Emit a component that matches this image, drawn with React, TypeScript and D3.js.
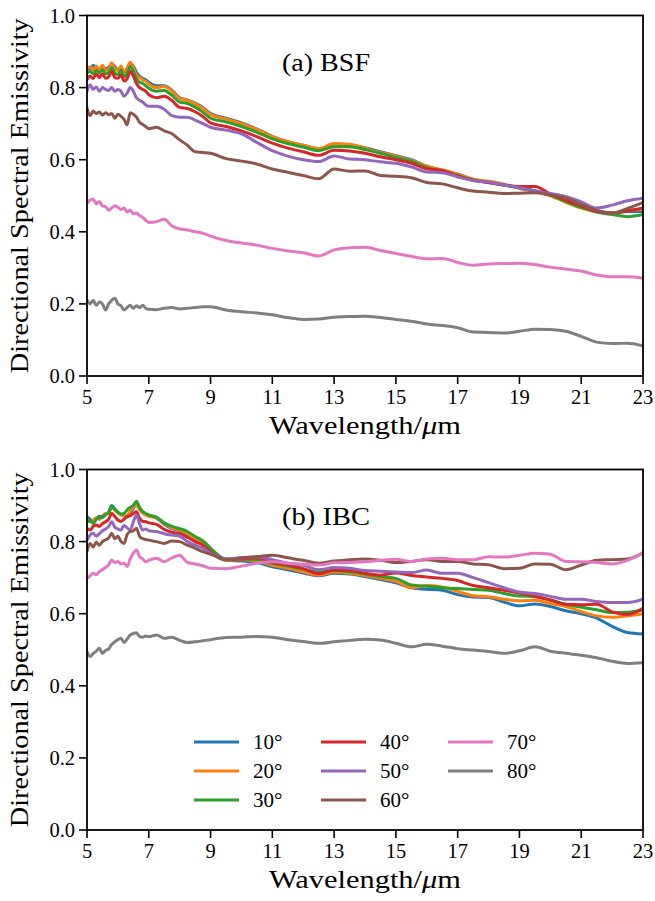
import React from 'react';
import * as d3 from 'd3';

// ---------- data ----------
const WAVELENGTH = [
  5.0, 5.1, 5.2, 5.3, 5.4, 5.5, 5.6, 5.7, 5.8, 5.9, 6.0, 6.1, 6.2, 6.3, 6.4, 6.5, 6.6, 6.7, 6.8, 6.9, 7.0,
  7.25, 7.5, 7.75, 8.0, 8.25, 8.5, 8.75, 9.0,
  9.5, 10.0, 10.5, 11.0, 11.5, 12.0, 12.5, 13.0, 13.5, 14.0, 14.5, 15.0, 15.5, 16.0, 16.5, 17.0, 17.5,
  18.0, 18.5, 19.0, 19.5, 20.0, 20.5, 21.0, 21.5, 22.0, 22.5, 23.0,
];

const ANGLES = ['10°', '20°', '30°', '40°', '50°', '60°', '70°', '80°'];
const COLORS = ['#1f77b4', '#ff7f0e', '#2ca02c', '#d62728', '#9467bd', '#8c564b', '#e377c2', '#7f7f7f'];

const X_TICKS = [5, 7, 9, 11, 13, 15, 17, 19, 21, 23];
const Y_TICKS = [0.0, 0.2, 0.4, 0.6, 0.8, 1.0];

// (a) BSF
const BSF_10 = [
  0.858, 0.850, 0.862, 0.855, 0.853, 0.858, 0.852, 0.856, 0.866, 0.858, 0.850, 0.856, 0.845, 0.850, 0.866, 0.860, 0.842, 0.832, 0.826, 0.822, 0.815,
  0.805, 0.805, 0.792, 0.772, 0.766, 0.757, 0.745, 0.728,
  0.715, 0.702, 0.685, 0.665, 0.650, 0.640, 0.630, 0.643, 0.640, 0.633, 0.622, 0.611, 0.600, 0.582, 0.570, 0.560, 0.545,
  0.537, 0.530, 0.522, 0.514, 0.504, 0.486, 0.468, 0.458, 0.452, 0.456, 0.456,
];
const BSF_20 = [
  0.852, 0.858, 0.848, 0.860, 0.850, 0.862, 0.848, 0.852, 0.868, 0.852, 0.848, 0.860, 0.842, 0.855, 0.870, 0.855, 0.835, 0.828, 0.822, 0.818, 0.810,
  0.800, 0.803, 0.790, 0.770, 0.765, 0.755, 0.742, 0.725,
  0.713, 0.700, 0.684, 0.664, 0.650, 0.640, 0.631, 0.645, 0.643, 0.632, 0.620, 0.610, 0.598, 0.582, 0.572, 0.560, 0.546,
  0.540, 0.532, 0.520, 0.512, 0.500, 0.482, 0.466, 0.456, 0.452, 0.460, 0.462,
];
const BSF_30 = [
  0.840, 0.845, 0.838, 0.848, 0.840, 0.850, 0.838, 0.842, 0.856, 0.840, 0.836, 0.848, 0.830, 0.840, 0.858, 0.845, 0.825, 0.815, 0.812, 0.805, 0.798,
  0.790, 0.792, 0.778, 0.760, 0.756, 0.746, 0.732, 0.715,
  0.705, 0.692, 0.676, 0.658, 0.645, 0.635, 0.625, 0.636, 0.636, 0.628, 0.618, 0.606, 0.596, 0.578, 0.568, 0.556, 0.544,
  0.537, 0.530, 0.522, 0.512, 0.502, 0.484, 0.468, 0.455, 0.448, 0.442, 0.448,
];
const BSF_40 = [
  0.822, 0.832, 0.825, 0.838, 0.828, 0.838, 0.826, 0.830, 0.845, 0.828, 0.826, 0.835, 0.818, 0.825, 0.845, 0.832, 0.812, 0.800, 0.795, 0.790, 0.780,
  0.772, 0.776, 0.764, 0.745, 0.742, 0.733, 0.720, 0.702,
  0.692, 0.680, 0.664, 0.646, 0.632, 0.622, 0.612, 0.626, 0.624, 0.618, 0.608, 0.600, 0.590, 0.575, 0.570, 0.555, 0.543,
  0.537, 0.530, 0.526, 0.526, 0.505, 0.488, 0.472, 0.456, 0.452, 0.458, 0.466,
];
const BSF_50 = [
  0.790, 0.808, 0.795, 0.802, 0.790, 0.800, 0.795, 0.792, 0.800, 0.790, 0.795, 0.790, 0.776, 0.785, 0.800, 0.790, 0.772, 0.765, 0.760, 0.752, 0.748,
  0.748, 0.740, 0.722, 0.718, 0.718, 0.710, 0.700, 0.690,
  0.682, 0.672, 0.648, 0.625, 0.610, 0.600, 0.595, 0.610, 0.602, 0.600, 0.594, 0.590, 0.580, 0.566, 0.564, 0.552, 0.542,
  0.538, 0.530, 0.522, 0.513, 0.506, 0.498, 0.483, 0.466, 0.474, 0.486, 0.493,
];
const BSF_60 = [
  0.744, 0.722, 0.735, 0.728, 0.732, 0.724, 0.730, 0.725, 0.728, 0.715, 0.726, 0.720, 0.712, 0.697, 0.730, 0.726, 0.718, 0.704, 0.698, 0.692, 0.686,
  0.690, 0.680, 0.672, 0.655, 0.640, 0.622, 0.620, 0.618,
  0.603, 0.596, 0.588, 0.574, 0.565, 0.556, 0.547, 0.574, 0.568, 0.569, 0.556, 0.554, 0.550, 0.537, 0.533, 0.522, 0.513,
  0.510, 0.506, 0.507, 0.508, 0.502, 0.494, 0.476, 0.459, 0.452, 0.465, 0.481,
];
const BSF_70 = [
  0.478, 0.488, 0.490, 0.478, 0.484, 0.472, 0.470, 0.460, 0.466, 0.472, 0.468, 0.462, 0.466, 0.455, 0.460, 0.450, 0.452, 0.445, 0.440, 0.432, 0.426,
  0.428, 0.435, 0.416, 0.408, 0.405, 0.400, 0.396, 0.388,
  0.376, 0.369, 0.363, 0.354, 0.347, 0.342, 0.333, 0.350, 0.356, 0.357, 0.348, 0.340, 0.332, 0.325, 0.326, 0.315, 0.307,
  0.311, 0.312, 0.313, 0.309, 0.302, 0.297, 0.291, 0.280, 0.275, 0.275, 0.271,
];
const BSF_80 = [
  0.211, 0.200, 0.210, 0.196, 0.205, 0.200, 0.183, 0.200, 0.210, 0.216, 0.200, 0.195, 0.183, 0.190, 0.196, 0.188, 0.195, 0.190, 0.196, 0.188, 0.185,
  0.184, 0.188, 0.190, 0.186, 0.188, 0.190, 0.192, 0.192,
  0.183, 0.178, 0.175, 0.170, 0.162, 0.157, 0.158, 0.163, 0.165, 0.166, 0.162, 0.157, 0.152, 0.144, 0.140, 0.134, 0.122,
  0.121, 0.119, 0.124, 0.130, 0.129, 0.124, 0.110, 0.094, 0.090, 0.091, 0.084,
];

// (b) IBC
const IBC_10 = [
  0.869, 0.862, 0.855, 0.862, 0.870, 0.866, 0.875, 0.882, 0.900, 0.890, 0.880, 0.876, 0.872, 0.868, 0.880, 0.892, 0.905, 0.890, 0.882, 0.876, 0.872,
  0.865, 0.848, 0.836, 0.830, 0.818, 0.806, 0.795, 0.772,
  0.748, 0.746, 0.742, 0.730, 0.722, 0.713, 0.705, 0.712, 0.710, 0.703, 0.695, 0.686, 0.672, 0.668, 0.665, 0.653, 0.646,
  0.645, 0.632, 0.622, 0.627, 0.620, 0.608, 0.600, 0.588, 0.565, 0.548, 0.544,
];
const IBC_20 = [
  0.860, 0.855, 0.860, 0.866, 0.862, 0.870, 0.878, 0.878, 0.895, 0.888, 0.880, 0.874, 0.872, 0.872, 0.885, 0.895, 0.902, 0.888, 0.880, 0.874, 0.870,
  0.866, 0.850, 0.838, 0.832, 0.822, 0.808, 0.796, 0.775,
  0.748, 0.750, 0.746, 0.734, 0.726, 0.716, 0.707, 0.716, 0.712, 0.706, 0.698, 0.690, 0.672, 0.678, 0.674, 0.662, 0.650,
  0.647, 0.640, 0.636, 0.637, 0.628, 0.620, 0.606, 0.594, 0.590, 0.594, 0.599,
];
const IBC_30 = [
  0.855, 0.858, 0.850, 0.862, 0.866, 0.870, 0.875, 0.880, 0.898, 0.890, 0.882, 0.876, 0.878, 0.888, 0.895, 0.900, 0.912, 0.895, 0.884, 0.878, 0.874,
  0.868, 0.852, 0.842, 0.836, 0.828, 0.814, 0.802, 0.782,
  0.752, 0.752, 0.750, 0.740, 0.732, 0.723, 0.716, 0.720, 0.716, 0.710, 0.703, 0.698, 0.680, 0.676, 0.672, 0.670, 0.667,
  0.665, 0.656, 0.649, 0.648, 0.638, 0.626, 0.618, 0.611, 0.603, 0.604, 0.610,
];
const IBC_40 = [
  0.837, 0.832, 0.842, 0.846, 0.842, 0.850, 0.855, 0.862, 0.878, 0.870, 0.860, 0.856, 0.862, 0.870, 0.872, 0.878, 0.883, 0.865, 0.856, 0.855, 0.852,
  0.848, 0.834, 0.826, 0.822, 0.812, 0.800, 0.790, 0.772,
  0.750, 0.752, 0.755, 0.742, 0.735, 0.725, 0.711, 0.721, 0.720, 0.712, 0.707, 0.713, 0.706, 0.702, 0.698, 0.692, 0.678,
  0.672, 0.665, 0.657, 0.648, 0.638, 0.626, 0.625, 0.626, 0.605, 0.598, 0.615,
];
const IBC_50 = [
  0.804, 0.818, 0.823, 0.815, 0.822, 0.830, 0.835, 0.842, 0.855, 0.840, 0.835, 0.832, 0.845, 0.838, 0.832, 0.855, 0.874, 0.850, 0.832, 0.835, 0.830,
  0.828, 0.822, 0.818, 0.815, 0.800, 0.790, 0.782, 0.768,
  0.752, 0.755, 0.758, 0.750, 0.740, 0.734, 0.722, 0.728, 0.726, 0.720, 0.718, 0.716, 0.714, 0.721, 0.712, 0.712, 0.700,
  0.686, 0.672, 0.660, 0.656, 0.648, 0.640, 0.640, 0.634, 0.631, 0.631, 0.640,
];
const IBC_60 = [
  0.772, 0.795, 0.785, 0.798, 0.790, 0.800, 0.805, 0.810, 0.823, 0.808, 0.815, 0.800, 0.795, 0.820, 0.828, 0.830, 0.837, 0.815, 0.808, 0.806, 0.804,
  0.800, 0.795, 0.802, 0.800, 0.790, 0.782, 0.772, 0.765,
  0.750, 0.755, 0.758, 0.762, 0.755, 0.748, 0.740, 0.746, 0.750, 0.752, 0.748, 0.742, 0.745, 0.750, 0.745, 0.745, 0.738,
  0.736, 0.725, 0.726, 0.738, 0.737, 0.722, 0.735, 0.748, 0.750, 0.752, 0.769,
];
const IBC_70 = [
  0.698, 0.705, 0.712, 0.708, 0.717, 0.722, 0.728, 0.735, 0.749, 0.742, 0.745, 0.738, 0.740, 0.731, 0.752, 0.768, 0.777, 0.758, 0.752, 0.744, 0.748,
  0.754, 0.744, 0.755, 0.762, 0.742, 0.738, 0.733, 0.726,
  0.725, 0.732, 0.740, 0.744, 0.740, 0.737, 0.735, 0.741, 0.742, 0.744, 0.748, 0.751, 0.745, 0.752, 0.754, 0.750, 0.750,
  0.758, 0.757, 0.762, 0.768, 0.765, 0.745, 0.744, 0.742, 0.738, 0.748, 0.769,
];
const IBC_80 = [
  0.495, 0.481, 0.490, 0.496, 0.504, 0.490, 0.498, 0.502, 0.515, 0.522, 0.528, 0.532, 0.520, 0.530, 0.541, 0.545, 0.547, 0.537, 0.535, 0.538, 0.536,
  0.541, 0.532, 0.535, 0.526, 0.520, 0.522, 0.525, 0.528,
  0.534, 0.535, 0.537, 0.535, 0.528, 0.523, 0.518, 0.522, 0.526, 0.529, 0.527, 0.518, 0.508, 0.515, 0.510, 0.503, 0.499,
  0.495, 0.490, 0.497, 0.508, 0.496, 0.490, 0.485, 0.478, 0.468, 0.462, 0.464,
];

const BSF_SERIES = [BSF_10, BSF_20, BSF_30, BSF_40, BSF_50, BSF_60, BSF_70, BSF_80];
const IBC_SERIES = [IBC_10, IBC_20, IBC_30, IBC_40, IBC_50, IBC_60, IBC_70, IBC_80];

// ---------- layout ----------
const W = 655;
const H = 901;
const LEFT = 87;
const RIGHT = 643;
const FONT = '"Liberation Serif", "DejaVu Serif", serif';

const xScale = d3.scaleLinear().domain([5, 23]).range([LEFT, RIGHT]);

function Panel({ top, bottom, series, title, legend }: { top: number; bottom: number; series: number[][]; title: string; legend: boolean }) {
  const yScale = d3.scaleLinear().domain([0, 1]).range([bottom, top]);
  const line = d3
    .line<number>()
    .x((_, i) => xScale(WAVELENGTH[i]))
    .y((d) => yScale(d))
    .curve(d3.curveMonotoneX);
  const fmt = d3.format('.1f');
  return (
    <g>
      <defs>
        <clipPath id={'clip' + top}>
          <rect x={LEFT} y={top} width={RIGHT - LEFT} height={bottom - top} />
        </clipPath>
      </defs>
      <g clipPath={`url(#clip${top})`}>
        {series.map((s, i) => (
          <path key={i} d={line(s) || ''} fill="none" stroke={COLORS[i]} strokeWidth={3} strokeLinejoin="round" strokeLinecap="round" />
        ))}
      </g>
      <rect x={LEFT} y={top} width={RIGHT - LEFT} height={bottom - top} fill="none" stroke="#000" strokeWidth={1.8} />
      {X_TICKS.map((t) => (
        <g key={'x' + t}>
          <line x1={xScale(t)} x2={xScale(t)} y1={bottom} y2={bottom + 8} stroke="#000" strokeWidth={1.6} />
          <text x={xScale(t)} y={bottom + 28} textAnchor="middle" fontFamily={FONT} fontSize={20.5} fill="#000">
            {t}
          </text>
        </g>
      ))}
      {Y_TICKS.map((t) => (
        <g key={'y' + t}>
          <line x1={LEFT - 8} x2={LEFT} y1={yScale(t)} y2={yScale(t)} stroke="#000" strokeWidth={1.6} />
          <text x={LEFT - 12} y={yScale(t) + 7} textAnchor="end" fontFamily={FONT} fontSize={20.5} fill="#000">
            {fmt(t)}
          </text>
        </g>
      ))}
      <text x={(LEFT + RIGHT) / 2} y={bottom + 58} textAnchor="middle" fontFamily={FONT} fontSize={25} fill="#000" textLength={192} lengthAdjust="spacingAndGlyphs">
        Wavelength/<tspan fontStyle="italic">μ</tspan>m
      </text>
      <text
        transform={`translate(${28},${(top + bottom) / 2}) rotate(-90)`}
        textAnchor="middle"
        fontFamily={FONT}
        fontSize={25}
        fill="#000"
        textLength={355}
        lengthAdjust="spacingAndGlyphs"
      >
        Directional Spectral Emissivity
      </text>
      <text x={282} y={top + 55} fontFamily={FONT} fontSize={26} fill="#000" textLength={88} lengthAdjust="spacingAndGlyphs">
        {title}
      </text>
      {legend &&
        ANGLES.map((a, i) => {
          const col = Math.floor(i / 3);
          const row = i % 3;
          const lx = 194 + col * 127;
          const ly = 742 + row * 29;
          return (
            <g key={a}>
              <line x1={lx} x2={lx + 45} y1={ly} y2={ly} stroke={COLORS[i]} strokeWidth={3} />
              <text x={lx + 59} y={ly + 7} fontFamily={FONT} fontSize={21} fill="#000">
                {a}
              </text>
            </g>
          );
        })}
    </g>
  );
}

export default function App() {
  return (
    <svg width={W} height={H} style={{ position: 'absolute', left: 0, top: 0, background: '#fff' }}>
      <rect width={W} height={H} fill="#fff" />
      <Panel top={15.5} bottom={376} series={BSF_SERIES} title="(a) BSF" legend={false} />
      <Panel top={469.5} bottom={830} series={IBC_SERIES} title="(b) IBC" legend={true} />
    </svg>
  );
}
